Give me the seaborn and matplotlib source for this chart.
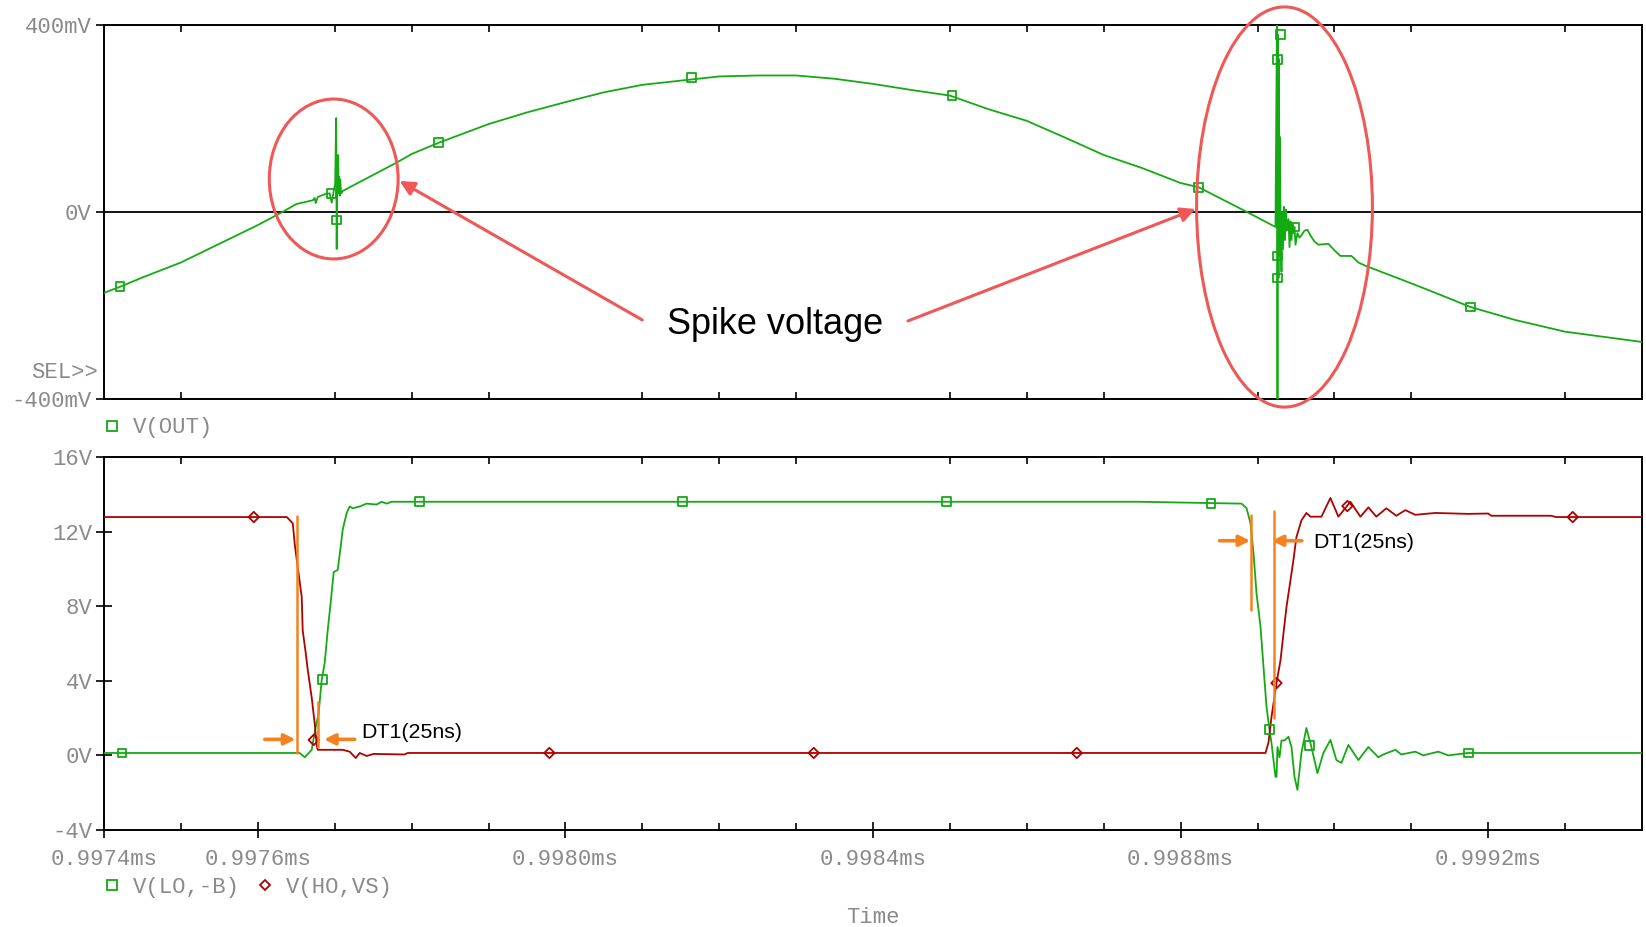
import matplotlib
matplotlib.use("Agg")
import matplotlib.pyplot as plt
import seaborn as sns
import pandas as pd
from matplotlib.patches import Ellipse
from matplotlib.lines import Line2D

# ---------------- data (time in microseconds) ----------------
OUT_T = [997.4000, 997.4208, 997.4500, 997.5000, 997.5500, 997.6000, 997.6320, 997.6500,
         997.6714, 997.6740, 997.6753, 997.6779, 997.6870, 997.6935, 997.6961, 997.6987,
         997.7006, 997.7019, 997.7026, 997.7032, 997.7045, 997.7052, 997.7058, 997.7065,
         997.7071, 997.7084, 997.7104, 997.7208, 997.7820, 997.8000, 997.8350, 997.9000,
         997.9500, 998.0000, 998.0500, 998.1000, 998.1500, 998.2000, 998.2500, 998.3000,
         998.3500, 998.4000, 998.4500, 998.5000, 998.5500, 998.6000, 998.6500, 998.7000,
         998.7500, 998.8000,
         998.8234, 998.8840, 998.9234, 998.9253, 998.9260, 998.9266, 998.9273, 998.9279,
         998.9286, 998.9292, 998.9299, 998.9312, 998.9318, 998.9331, 998.9344, 998.9357,
         998.9370, 998.9383, 998.9403, 998.9416, 998.9429, 998.9442, 998.9455, 998.9468,
         998.9481, 998.9494, 998.9519, 998.9545, 998.9571, 998.9610, 998.9649, 998.9688,
         998.9740, 998.9792, 998.9922, 999.0000, 999.0078, 999.0221, 999.0312, 999.0403,
         999.0610, 999.0831, 999.1052, 999.1390, 999.1766, 999.2351, 999.3000, 999.4000]
OUT_MV = [-173, -160, -140, -108, -68, -28, 0, 17,
          25, 30, 19, 32, 38, 40, 20, 45,
          60, 201, -79, 100, 122, 40, 75, 35,
          70, 40, 45, 54, 107, 124, 148, 188,
          213, 235, 256, 272, 281, 290, 292, 292,
          285, 274, 261, 249, 220, 195, 159, 122,
          94, 62,
          53, 2, -32, 420, -420, 379, -141, 327,
          -94, 160, -20, -128, 0, -80, 11, -60,
          5, -40, -15, -75, -20, -60, -25, -45,
          -32, -70, -45, -55, -50, -40, -38, -50,
          -63, -70, -68, -82, -94, -94, -108, -115,
          -128, -142, -156, -178, -203, -231, -256, -278]
OUT_MK_T = [997.4208, 997.6957, 997.7022, 997.8350, 998.1636, 998.5026, 998.8234,
            998.9260, 998.9260, 998.9260, 998.9299, 998.9481, 999.1766]
OUT_MK_MV = [-160, 40, -17, 148, 287, 249, 53, 327, -94, -141, 379, -32, -203]

LO_T = [997.4000, 997.6545, 997.6610, 997.6701, 997.6740, 997.6792, 997.6831, 997.6870,
        997.6909, 997.6948, 997.6987, 997.7039, 997.7078, 997.7104, 997.7156, 997.7195,
        997.7234, 997.7325, 997.7416, 997.7545, 997.7610, 997.7675, 997.7740, 997.9143,
        998.7455, 998.8792, 998.8857, 998.8909, 998.8948, 998.8987, 998.9039, 998.9078,
        998.9117, 998.9156, 998.9182, 998.9208, 998.9234, 998.9247, 998.9260, 998.9286,
        998.9312, 998.9351, 998.9403, 998.9442, 998.9481, 998.9519, 998.9571, 998.9636,
        998.9701, 998.9779, 998.9857, 998.9948, 999.0026, 999.0091, 999.0182, 999.0312,
        999.0442, 999.0571, 999.0636, 999.0792, 999.0870, 999.1052, 999.1156, 999.1351,
        999.1481, 999.1740, 999.4000]
LO_V = [0.13, 0.13, -0.1, 0.3, 1.25, 2.3, 4.05, 4.96,
        6.7, 8.2, 9.83, 9.94, 11.2, 12.1, 13.0, 13.35,
        13.25, 13.35, 13.5, 13.45, 13.6, 13.5, 13.6, 13.6,
        13.6, 13.5, 13.26, 12.45, 10.85, 8.7, 6.9, 4.75,
        2.6, 1.4, 0.66, -0.25, -1.15, -1.15, 0.45, -0.1,
        0.8, 0.8, 1.0, 0.45, -1.15, -1.85, 0.13, 1.47,
        0.45, -0.95, 0.13, 0.83, -0.25, -0.4, 0.56, -0.25,
        0.45, -0.1, 0.05, 0.3, 0.05, 0.2, 0.0, 0.2,
        0.0, 0.13, 0.13]
LO_MK_T = [997.4234, 997.6844, 997.8104, 998.1525, 998.4960, 998.8395, 998.9159, 998.9675, 999.1748]
LO_MK_V = [0.13, 4.05, 13.6, 13.6, 13.6, 13.5, 1.38, 0.55, 0.13]

HO_T = [997.4000, 997.6377, 997.6455, 997.6481, 997.6519, 997.6571, 997.6584, 997.6623,
        997.6649, 997.6701, 997.6740, 997.6766, 997.6779, 997.7104, 997.7195, 997.7273,
        997.7325, 997.7416, 997.7506, 997.7909, 997.7948, 998.9104, 998.9143, 998.9182,
        998.9247, 998.9299, 998.9338, 998.9377, 998.9429, 998.9468, 998.9506, 998.9571,
        998.9636, 998.9688, 998.9831, 998.9948, 999.0052, 999.0208, 999.0338, 999.0442,
        999.0545, 999.0675, 999.0805, 999.0922, 999.1052, 999.1312, 999.1740, 999.2000,
        999.2039, 999.2818, 999.2883, 999.4000]
HO_V = [12.78, 12.78, 12.44, 11.3, 10.1, 8.5, 6.7, 5.5,
        4.6, 3.1, 1.7, 0.56, 0.3, 0.3, 0.2, -0.14,
        0.13, -0.03, 0.08, 0.05, 0.13, 0.13, 0.7, 2.06,
        3.88, 5.1, 6.56, 7.96, 9.4, 10.5, 11.7, 12.6,
        13.0, 12.8, 12.8, 13.8, 12.8, 13.6, 12.8, 13.3,
        12.8, 13.25, 12.85, 13.15, 12.9, 13.0, 12.95, 12.97,
        12.85, 12.85, 12.78, 12.78]
HO_MK_T = [997.5948, 997.6727, 997.9792, 998.3229, 998.6650, 998.9247, 999.0169, 999.3099]
HO_MK_V = [12.78, 0.83, 0.13, 0.13, 0.13, 3.88, 13.37, 12.78]

X_MAJOR = [997.4, 997.6, 998.0, 998.4, 998.8, 999.2]
X_MINOR = [997.5, 997.6, 997.7, 997.8, 997.9, 998.0, 998.1, 998.2, 998.3, 998.4,
           998.5, 998.6, 998.7, 998.8, 998.9, 999.0, 999.1, 999.2, 999.3]
X_TOP_ONLY = [997.5, 997.7, 997.8, 997.9, 998.1, 998.2, 998.3, 998.5, 998.6, 998.7,
              998.9, 999.0, 999.1, 999.3]
Y1_TICKS = [-400, 0, 400]
Y1_LABELS = ["-400mV", "0V", "400mV"]
Y2_TICKS = [-4, 0, 4, 8, 12, 16]
Y2_LABELS = ["-4V", "0V", "4V", "8V", "12V", "16V"]

# annotation geometry (data units of each panel)
ELLIPSES = [(997.6987, 70.6, 0.1675, 342), (998.9351, 10.7, 0.2286, 856)]
SPIKE_TEXT = (998.2727, -240)
SPIKE_ARROWS = [((998.1000, -231), (997.7844, 66.3)), ((998.4455, -233), (998.8195, 6.4))]
DT_LINES = [(997.6506, 12.84, 0.11), (997.6783, 2.88, 0.47),
            (998.8918, 12.89, 7.8), (998.9212, 13.12, 1.99)]
DT_ARROWS = [((997.6091, 0.86), (997.6489, 0.86)), ((997.7260, 0.86), (997.6861, 0.86)),
             ((998.8506, 11.51), (998.8905, 11.51)), ((998.9576, 11.51), (998.9186, 11.51))]
DT_TEXTS = [(997.7351, 1.25), (998.9727, 11.39)]

GREEN = "#14aa14"
RED = "#b00000"
ANN_RED = "#f05858"
ORANGE = "#f5821f"
GREY = "#8a8a8a"
MONO = "Liberation Mono"
SANS = "Liberation Sans"
FS = 16

sns.set_theme(style="white")
plt.rcParams["font.family"] = [MONO, "DejaVu Sans"]

W, H = 1646, 927
fig = plt.figure(figsize=(W / 100, H / 100), dpi=100)
ax1 = fig.add_axes([104 / W, 1 - 399 / H, 1538 / W, 374 / H])
ax2 = fig.add_axes([104 / W, 1 - 830 / H, 1538 / W, 373 / H])

df_out = pd.DataFrame({"t": OUT_T, "v": OUT_MV})
df_lo = pd.DataFrame({"t": LO_T, "v": LO_V})
df_ho = pd.DataFrame({"t": HO_T, "v": HO_V})

# ---- top panel ----
ax1.axhline(0, color="black", lw=1.3, zorder=1)
sns.lineplot(data=df_out, x="t", y="v", ax=ax1, color=GREEN, lw=1.3,
             estimator=None, sort=False, zorder=3)
sns.scatterplot(x=OUT_MK_T, y=OUT_MK_MV, ax=ax1, marker="s", s=40, zorder=4)
ax1.collections[-1].set_facecolor("none")
ax1.collections[-1].set_edgecolor(GREEN)
ax1.collections[-1].set_linewidth(1.3)

# ---- bottom panel ----
sns.lineplot(data=df_lo, x="t", y="v", ax=ax2, color=GREEN, lw=1.3,
             estimator=None, sort=False, zorder=3)
sns.lineplot(data=df_ho, x="t", y="v", ax=ax2, color=RED, lw=1.3,
             estimator=None, sort=False, zorder=3)
sns.scatterplot(x=LO_MK_T, y=LO_MK_V, ax=ax2, marker="s", s=40, zorder=4)
c = ax2.collections[-1]
c.set_facecolor("none"); c.set_edgecolor(GREEN); c.set_linewidth(1.3)
sns.scatterplot(x=HO_MK_T, y=HO_MK_V, ax=ax2, marker="D", s=28, zorder=4)
c = ax2.collections[-1]
c.set_facecolor("none"); c.set_edgecolor(RED); c.set_linewidth(1.3)

for ax in (ax1, ax2):
    ax.set_xlim(997.4, 999.4)
    ax.set_xlabel("")
    ax.set_ylabel("")
    for s in ax.spines.values():
        s.set_color("black")
        s.set_linewidth(1.4)
        s.set_visible(True)

ax1.set_ylim(-400, 400)
ax1.set_xticks(X_TOP_ONLY)
ax1.set_xticklabels([])
ax1.tick_params(axis="x", direction="in", length=5, width=1.2, top=True, bottom=True,
                labelbottom=False, color="black")
ax1.set_yticks(Y1_TICKS)
ax1.set_yticklabels(Y1_LABELS)
ax1.tick_params(axis="y", direction="out", length=6, width=1.2, pad=3, left=True,
                labelsize=FS, labelcolor=GREY, color="black")

ax2.set_ylim(-4, 16)
ax2.set_xticks(X_MAJOR)
ax2.set_xticklabels([f"{t / 1000:.4f}ms" for t in X_MAJOR])
ax2.set_xticks(X_MINOR, minor=True)
ax2.tick_params(axis="x", which="major", direction="inout", length=11, width=1.2,
                bottom=True, top=False, pad=8, labelsize=FS, labelcolor=GREY, color="black")
ax2.tick_params(axis="x", which="minor", direction="in", length=5, width=1.2,
                bottom=True, top=True, color="black")
ax2.set_yticks(Y2_TICKS)
ax2.set_yticklabels(Y2_LABELS)
ax2.tick_params(axis="y", direction="inout", length=11, width=1.2, pad=3, left=True,
                labelsize=FS, labelcolor=GREY, color="black")
ax2.set_xlabel("Time", fontsize=FS, color=GREY, labelpad=27)

# ---- annotations top ----
for (cx, cy, w, h) in ELLIPSES:
    ax1.add_patch(Ellipse((cx, cy), w, h, fill=False, ec=ANN_RED, lw=2.2,
                          clip_on=False, zorder=5))
for tail, head in SPIKE_ARROWS:
    ax1.annotate("", xy=head, xytext=tail, annotation_clip=False,
                 arrowprops=dict(arrowstyle="-|>", color=ANN_RED, lw=2.2,
                                 mutation_scale=22, shrinkA=0, shrinkB=0), zorder=5)
ax1.text(SPIKE_TEXT[0], SPIKE_TEXT[1], "Spike voltage", family=SANS, fontsize=26,
         color="black", ha="center", va="center", zorder=6)

# ---- annotations bottom ----
for (x, y0, y1) in DT_LINES:
    ax2.plot([x, x], [y0, y1], color=ORANGE, lw=1.8, zorder=5)
for tail, head in DT_ARROWS:
    ax2.annotate("", xy=head, xytext=tail, annotation_clip=False,
                 arrowprops=dict(arrowstyle="-|>", color=ORANGE, lw=2.6,
                                 mutation_scale=16, shrinkA=0, shrinkB=0), zorder=5)
for (x, y) in DT_TEXTS:
    ax2.text(x, y, "DT1(25ns)", family=SANS, fontsize=15.4, color="black",
             ha="left", va="center", zorder=6)

# ---- legends ----
h_out = [Line2D([], [], ls="none", marker="s", ms=6.5, mfc="none", mec=GREEN, mew=1.3)]
leg1 = fig.legend(h_out, ["V(OUT)"], loc="center left",
                  bbox_to_anchor=(101 / W, 1 - 428 / H), frameon=False,
                  handlelength=1.0, handletextpad=0.45, borderpad=0, borderaxespad=0,
                  prop={"family": MONO, "size": FS}, labelcolor=GREY)
h_bot = [Line2D([], [], ls="none", marker="s", ms=6.5, mfc="none", mec=GREEN, mew=1.3),
         Line2D([], [], ls="none", marker="D", ms=5.5, mfc="none", mec=RED, mew=1.3)]
leg2 = fig.legend(h_bot, ["V(LO,-B)", "V(HO,VS)"], loc="center left", ncol=2,
                  bbox_to_anchor=(101 / W, 1 - 887 / H), frameon=False,
                  handlelength=1.0, handletextpad=0.45, columnspacing=0.6,
                  borderpad=0, borderaxespad=0,
                  prop={"family": MONO, "size": FS}, labelcolor=GREY)

fig.text(98 / W, 1 - 372 / H, "SEL>>", ha="right", va="center", fontsize=FS,
         color=GREY, family=MONO)

fig.savefig("out.png", dpi=100, facecolor="white")
